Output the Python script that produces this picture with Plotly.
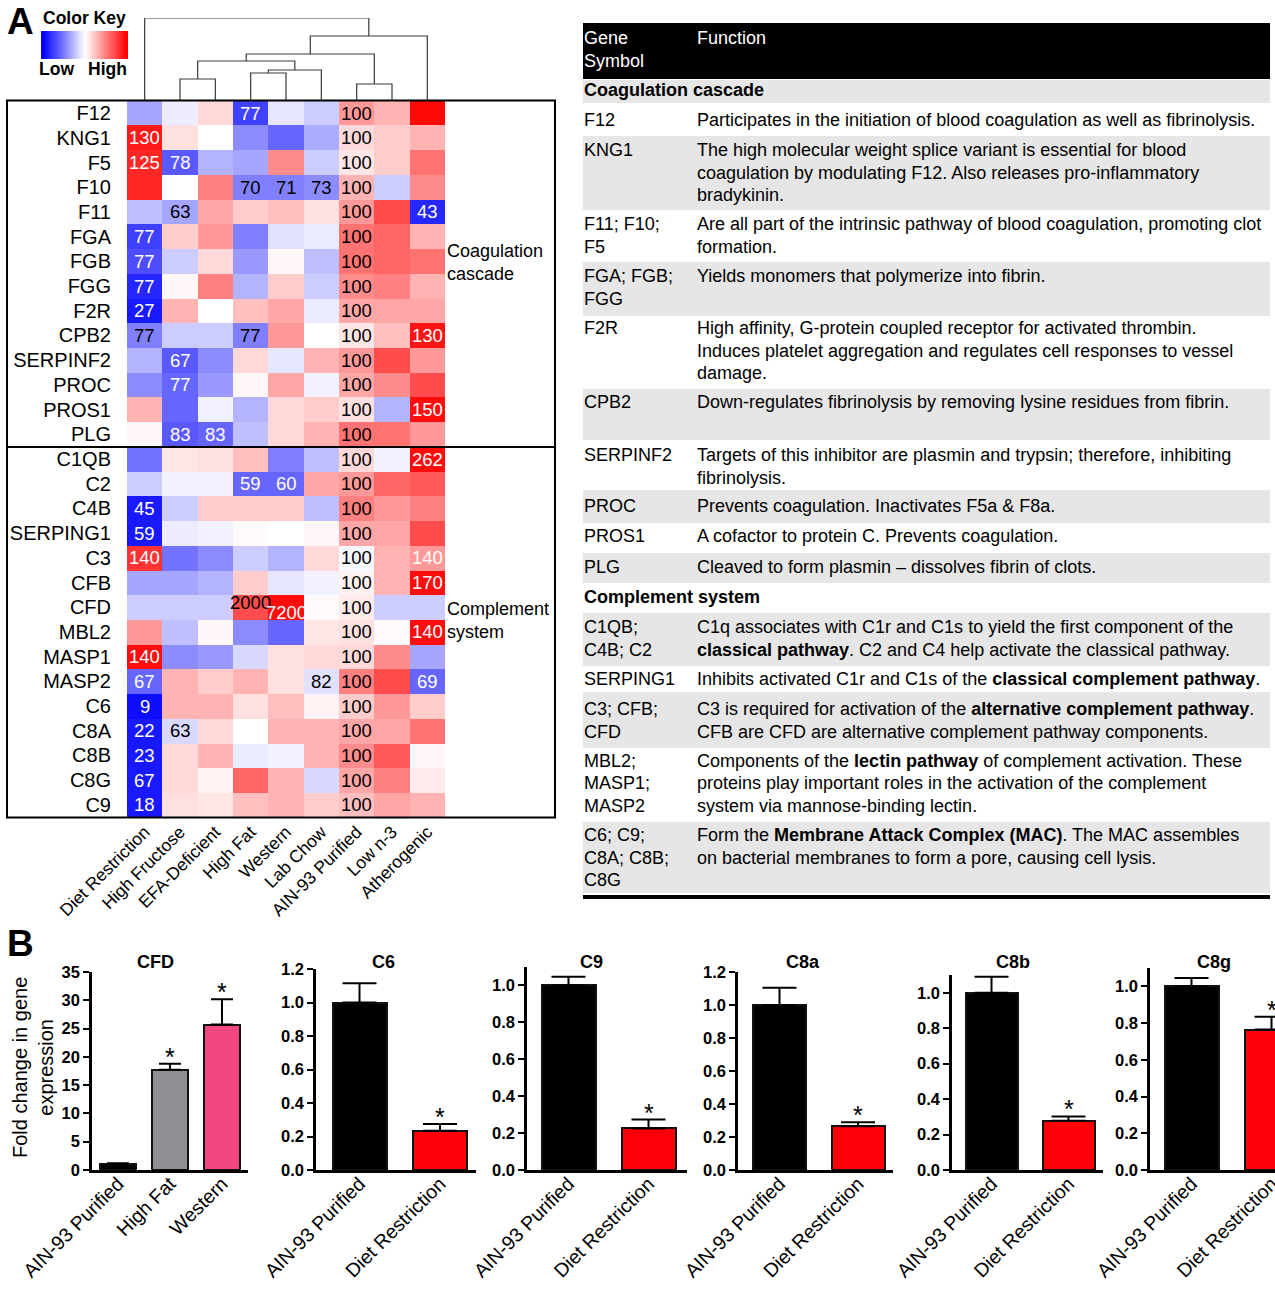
import plotly.graph_objects as go

W, H = 1275, 1290
FONT = "Liberation Sans, Arial, Helvetica, sans-serif"


def X(px):
    return px / W


def Y(py):
    return 1 - py / H


# ------------------------------------------------------------------ data: heatmap
diets = ["Diet Restriction", "High Fructose", "EFA-Deficient", "High Fat", "Western",
         "Lab Chow", "AIN-93 Purified", "Low n-3", "Atherogenic"]
genes = ["F12", "KNG1", "F5", "F10", "F11", "FGA", "FGB", "FGG", "F2R", "CPB2", "SERPINF2",
         "PROC", "PROS1", "PLG",
         "C1QB", "C2", "C4B", "SERPING1", "C3", "CFB", "CFD", "MBL2", "MASP1", "MASP2",
         "C6", "C8A", "C8B", "C8G", "C9"]

# relative (row-scaled) expression level, -1 = low (blue) ... +1 = high (red)
color_level = [
    [-0.35, -0.07, 0.15, -0.75, -0.10, -0.20, 0.40, 0.30, 0.97],   # F12
    [0.90, 0.12, 0.00, -0.45, -0.60, -0.33, 0.15, 0.20, 0.30],     # KNG1
    [0.85, -0.65, -0.30, -0.35, 0.45, -0.20, 0.10, 0.20, 0.55],    # F5
    [0.85, 0.00, 0.50, -0.50, -0.50, -0.45, 0.30, -0.20, 0.45],    # F10
    [-0.25, -0.35, 0.35, 0.20, 0.25, 0.12, 0.40, 0.70, -0.85],     # F11
    [-0.75, 0.20, 0.40, -0.50, -0.12, -0.08, 0.55, 0.60, 0.30],    # FGA
    [-0.70, -0.20, 0.15, -0.40, 0.03, -0.25, 0.55, 0.60, 0.55],    # FGB
    [-0.85, 0.03, 0.50, -0.30, 0.20, -0.20, 0.45, 0.50, 0.30],     # FGG
    [-0.90, 0.30, 0.00, 0.25, 0.35, -0.08, 0.35, 0.35, 0.35],      # F2R
    [-0.50, -0.20, -0.20, -0.50, 0.40, 0.00, 0.10, 0.25, 0.92],    # CPB2
    [-0.30, -0.65, -0.45, 0.15, -0.10, 0.30, 0.40, 0.70, 0.40],    # SERPINF2
    [-0.45, -0.60, -0.40, 0.03, 0.35, -0.05, 0.35, 0.45, 0.70],    # PROC
    [0.30, -0.60, -0.05, -0.30, 0.15, 0.20, 0.12, -0.30, 0.95],    # PROS1
    [0.03, -0.65, -0.60, -0.25, 0.15, 0.30, 0.55, 0.55, 0.40],     # PLG
    [-0.55, 0.10, 0.12, 0.25, -0.50, -0.25, 0.15, -0.05, 0.95],    # C1QB
    [-0.20, -0.05, -0.05, -0.60, -0.60, 0.35, 0.40, 0.60, 0.65],   # C2
    [-0.90, -0.20, 0.20, 0.20, 0.20, -0.25, 0.50, 0.40, 0.50],     # C4B
    [-0.90, -0.07, -0.05, 0.02, 0.00, 0.03, 0.35, 0.35, 0.70],     # SERPING1
    [0.80, -0.55, -0.45, -0.20, -0.30, 0.15, -0.03, 0.30, 0.40],   # C3
    [-0.35, -0.35, -0.30, 0.20, -0.10, -0.05, 0.05, 0.30, 0.95],   # CFB
    [-0.20, -0.20, -0.20, 0.70, 0.95, 0.02, 0.08, -0.20, -0.20],   # CFD
    [0.40, -0.25, 0.03, -0.45, -0.60, 0.10, 0.12, 0.02, 0.95],     # MBL2
    [0.95, -0.45, -0.40, -0.15, 0.12, 0.15, 0.15, 0.45, -0.35],    # MASP1
    [-0.60, 0.30, 0.20, 0.30, 0.12, -0.12, 0.50, 0.70, -0.60],     # MASP2
    [-0.95, 0.30, 0.30, 0.12, 0.25, 0.05, 0.20, 0.40, 0.20],       # C6
    [-0.90, -0.15, 0.15, 0.00, 0.30, 0.30, 0.35, 0.35, 0.55],      # C8A
    [-0.90, 0.15, 0.30, -0.08, -0.05, 0.30, 0.45, 0.65, 0.03],     # C8B
    [-0.90, 0.15, 0.05, 0.60, 0.30, -0.15, 0.35, 0.50, 0.08],      # C8G
    [-0.90, 0.12, 0.10, 0.25, 0.30, 0.20, 0.25, 0.35, 0.30],       # C9
]

# percent of AIN-93 Purified shown in the cells ("" = no label)
cell_labels = [
    ["", "", "", "77", "", "", "100", "", ""],
    ["130", "", "", "", "", "", "100", "", ""],
    ["125", "78", "", "", "", "", "100", "", ""],
    ["", "", "", "70", "71", "73", "100", "", ""],
    ["", "63", "", "", "", "", "100", "", "43"],
    ["77", "", "", "", "", "", "100", "", ""],
    ["77", "", "", "", "", "", "100", "", ""],
    ["77", "", "", "", "", "", "100", "", ""],
    ["27", "", "", "", "", "", "100", "", ""],
    ["77", "", "", "77", "", "", "100", "", "130"],
    ["", "67", "", "", "", "", "100", "", ""],
    ["", "77", "", "", "", "", "100", "", ""],
    ["", "", "", "", "", "", "100", "", "150"],
    ["", "83", "83", "", "", "", "100", "", ""],
    ["", "", "", "", "", "", "100", "", "262"],
    ["", "", "", "59", "60", "", "100", "", ""],
    ["45", "", "", "", "", "", "100", "", ""],
    ["59", "", "", "", "", "", "100", "", ""],
    ["140", "", "", "", "", "", "100", "", "140"],
    ["", "", "", "", "", "", "100", "", "170"],
    ["", "", "", "2000", "7200", "", "100", "", ""],
    ["", "", "", "", "", "", "100", "", "140"],
    ["140", "", "", "", "", "", "100", "", ""],
    ["67", "", "", "", "", "82", "100", "", "69"],
    ["9", "", "", "", "", "", "100", "", ""],
    ["22", "63", "", "", "", "", "100", "", ""],
    ["23", "", "", "", "", "", "100", "", ""],
    ["67", "", "", "", "", "", "100", "", ""],
    ["18", "", "", "", "", "", "100", "", ""],
]

# colour key gradient stops (Low -> High)
key_levels = [-1.0, -0.9, -0.8, -0.7, -0.6, -0.5, -0.4, -0.3, -0.2, -0.1, 0.0,
              0.1, 0.2, 0.3, 0.4, 0.5, 0.6, 0.7, 0.8, 0.9, 1.0]

# column dendrogram: merges of (left, right) nodes (leaves 0..8, new nodes 9..) and heights
dendro_merges = [(1, 2), (3, 4), (10, 5), (9, 11), (6, 7), (12, 13), (14, 8), (0, 15)]
dendro_heights = [18, 24, 27, 36, 13, 43, 61, 79]

# ------------------------------------------------------------------ data: table
table_sections = ["Coagulation cascade", "Complement system"]
table_symbols = ["F12", "KNG1", "F11; F10;\nF5", "FGA; FGB;\nFGG", "F2R", "CPB2", "SERPINF2",
                 "PROC", "PROS1", "PLG",
                 "C1QB;\nC4B; C2", "SERPING1", "C3; CFB;\nCFD", "MBL2;\nMASP1;\nMASP2",
                 "C6; C9;\nC8A; C8B;\nC8G"]
table_functions = [
    "Participates in the initiation of blood coagulation as well as fibrinolysis.",
    "The high molecular weight splice variant is essential for blood\ncoagulation by modulating F12. Also releases pro-inflammatory\nbradykinin.",
    "Are all part of the intrinsic pathway of blood coagulation, promoting clot\nformation.",
    "Yields monomers that polymerize into fibrin.",
    "High affinity, G-protein coupled receptor for activated thrombin.\nInduces platelet aggregation and regulates cell responses to vessel\ndamage.",
    "Down-regulates fibrinolysis by removing lysine residues from fibrin.",
    "Targets of this inhibitor are plasmin and trypsin; therefore, inhibiting\nfibrinolysis.",
    "Prevents coagulation. Inactivates F5a & F8a.",
    "A cofactor to protein C. Prevents coagulation.",
    "Cleaved to form plasmin \u2013 dissolves fibrin of clots.",
    "C1q associates with C1r and C1s to yield the first component of the\n<b>classical pathway</b>. C2 and C4 help activate the classical pathway.",
    "Inhibits activated C1r and C1s of the <b>classical complement pathway</b>.",
    "C3 is required for activation of the <b>alternative complement pathway</b>.\nCFB are CFD are alternative complement pathway components.",
    "Components of the <b>lectin pathway</b> of complement activation. These\nproteins play important roles in the activation of the complement\nsystem via mannose-binding lectin.",
    "Form the <b>Membrane Attack Complex (MAC)</b>. The MAC assembles\non bacterial membranes to form a pore, causing cell lysis.",
]

# ------------------------------------------------------------------ data: bar charts (panel B)
bar_titles = ["CFD", "C6", "C9", "C8a", "C8b", "C8g"]
cfd_groups = ["AIN-93 Purified", "High Fat", "Western"]
dr_groups = ["AIN-93 Purified", "Diet Restriction"]
cfd_mean = [1.0, 17.7, 25.7]
cfd_sem = [0.2, 1.1, 4.5]
cfd_sig = [False, True, True]
c6_mean, c6_sem = [1.0, 0.235], [0.115, 0.04]
c9_mean, c9_sem = [1.0, 0.225], [0.047, 0.048]
c8a_mean, c8a_sem = [1.0, 0.265], [0.105, 0.024]
c8b_mean, c8b_sem = [1.0, 0.278], [0.09, 0.024]
c8g_mean, c8g_sem = [1.0, 0.765], [0.046, 0.07]
dr_sig = [False, True]

# ------------------------------------------------------------------ figure
fig = go.Figure()
CSCALE = [[0, "#0000ff"], [0.5, "#ffffff"], [1, "#ff0000"]]

# heatmap area (pixels)
HM_L, HM_R, HM_T, HM_B = 127, 445, 100.6, 817.4

fig.add_trace(go.Heatmap(
    z=color_level, x=diets, y=genes, zmin=-1, zmax=1, colorscale=CSCALE,
    xaxis="x", yaxis="y", hoverinfo="skip", showscale=False))

# colour key
fig.add_trace(go.Heatmap(
    z=[key_levels], x=list(range(len(key_levels))), y=[0], zmin=-1, zmax=1, colorscale=CSCALE,
    zsmooth="best", xaxis="x9", yaxis="y9", hoverinfo="skip", showscale=False))

annotations = []
override_black = {("CFD", "High Fat")}
override_white = {("C3", "Atherogenic")}
yshift_map = {("CFD", "High Fat"): 5, ("CFD", "Western"): -5}
for gi, g in enumerate(genes):
    for di, d in enumerate(diets):
        lab = cell_labels[gi][di]
        if not lab:
            continue
        z = color_level[gi][di]
        col = "white" if (abs(z) >= 0.55 and lab != "100") else "black"
        if (g, d) in override_black:
            col = "black"
        if (g, d) in override_white:
            col = "white"
        annotations.append(dict(x=d, y=g, xref="x", yref="y", text=lab, showarrow=False,
                                font=dict(family=FONT, size=18.5, color=col),
                                yshift=yshift_map.get((g, d), 0)))

# dendrogram
n_leaf = len(diets)
node_x = list(range(n_leaf))
node_h = [None] * n_leaf
DEN_MIN = -4
dx, dy = [], []
for (a, b), h in zip(dendro_merges, dendro_heights):
    xa, xb = node_x[a], node_x[b]
    ha = node_h[a] if node_h[a] is not None else DEN_MIN
    hb = node_h[b] if node_h[b] is not None else DEN_MIN
    dx += [xa, xa, xb, xb, None]
    dy += [ha, h, h, hb, None]
    node_x.append((xa + xb) / 2)
    node_h.append(h)
fig.add_trace(go.Scatter(x=dx, y=dy, mode="lines", line=dict(color="#3a3a3a", width=1.2),
                         xaxis="x2", yaxis="y2", hoverinfo="skip"))

layout_axes = dict(
    xaxis=dict(domain=[X(HM_L), X(HM_R)], anchor="y", tickangle=-45, ticks="",
               tickfont=dict(family=FONT, size=17.5, color="black"), showgrid=False,
               zeroline=False, showline=False, automargin=False),
    yaxis=dict(domain=[Y(HM_B), Y(HM_T)], anchor="x", autorange="reversed", ticks="outside",
               ticklen=11, tickcolor="rgba(0,0,0,0)", tickfont=dict(family=FONT, size=20, color="black"),
               showgrid=False, zeroline=False, showline=False, automargin=False),
    xaxis2=dict(domain=[X(HM_L), X(HM_R)], anchor="y2", range=[-0.5, 8.5], visible=False, automargin=False),
    yaxis2=dict(domain=[Y(101), Y(18)], anchor="x2", range=[DEN_MIN, 79], visible=False, automargin=False),
    xaxis9=dict(domain=[X(41), X(128)], anchor="y9", range=[-0.5, len(key_levels) - 0.5], visible=False,
                automargin=False),
    yaxis9=dict(domain=[Y(59), Y(31)], anchor="x9", range=[-0.5, 0.5], visible=False, automargin=False),
)

shapes = []
# boxes around gene groups
shapes.append(dict(type="rect", xref="paper", yref="paper", x0=X(7), x1=X(555), y0=Y(447), y1=Y(HM_T),
                   line=dict(color="black", width=2)))
shapes.append(dict(type="rect", xref="paper", yref="paper", x0=X(7), x1=X(555), y0=Y(HM_B), y1=Y(447),
                   line=dict(color="black", width=2)))


def ptext(px, py, text, size=17, color="black", xanchor="left", yanchor="middle", bold=False, angle=0):
    annotations.append(dict(x=X(px), y=Y(py), xref="paper", yref="paper", text=(f"<b>{text}</b>" if bold else text),
                            showarrow=False, xanchor=xanchor, yanchor=yanchor, textangle=angle,
                            font=dict(family=FONT, size=size, color=color)))


ptext(5, 21, "A", size=37, bold=True)
ptext(41, 18, "Color Key", size=17.5, bold=True)
ptext(37, 69, "Low", size=17.5, bold=True)
ptext(86, 69, "High", size=17.5, bold=True)
ptext(445, 251, "Coagulation", size=18)
ptext(445, 274, "cascade", size=18)
ptext(445, 609, "Complement", size=18)
ptext(445, 632, "system", size=18)

# ------------------------------------------------------------------ table
T_L, T_R = 583, 1270
TF = 18
LINE = 22.5
SX, FX = 582, 695
shapes.append(dict(type="rect", xref="paper", yref="paper", x0=X(T_L), x1=X(T_R), y0=Y(79), y1=Y(23),
                   fillcolor="black", line=dict(width=0)))
ptext(SX, 38, "Gene", size=TF, color="white")
ptext(SX, 61, "Symbol", size=TF, color="white")
ptext(FX, 38, "Function", size=TF, color="white")

# row bands (top, bottom, first text line centre, grey?)
section_bands = [(80, 103, 90, True), (583, 613, 597, False)]
row_bands = [(103, 136, 120, False), (136, 210, 150, True), (210, 262, 224, False),
             (262, 316, 276, True), (316, 389, 328, False), (389, 440, 402, True),
             (440, 490, 455, False), (490, 523, 506, True), (523, 553, 536, False),
             (553, 583, 567, True),
             (613, 666, 627, True), (666, 692, 679, False), (692, 748, 709, True),
             (748, 822, 761, False), (822, 893, 835, True)]
GREY = "#e6e6e6"
for (t, b, c, grey), name in zip(section_bands, table_sections):
    if grey:
        shapes.append(dict(type="rect", xref="paper", yref="paper", x0=X(T_L), x1=X(T_R), y0=Y(b), y1=Y(t),
                           fillcolor=GREY, line=dict(width=0), layer="below"))
    ptext(SX, c, name, size=TF, bold=True)
for (t, b, c, grey), sym, fn in zip(row_bands, table_symbols, table_functions):
    if grey:
        shapes.append(dict(type="rect", xref="paper", yref="paper", x0=X(T_L), x1=X(T_R), y0=Y(b), y1=Y(t),
                           fillcolor=GREY, line=dict(width=0), layer="below"))
    for i, ln in enumerate(sym.split("\n")):
        ptext(SX, c + i * LINE, ln, size=TF)
    for i, ln in enumerate(fn.split("\n")):
        ptext(FX, c + i * LINE, ln, size=TF)
shapes.append(dict(type="line", xref="paper", yref="paper", x0=X(T_L), x1=X(T_R), y0=Y(897), y1=Y(897),
                   line=dict(color="black", width=4)))

# ------------------------------------------------------------------ panel B
ptext(5, 943, "B", size=37, bold=True)
ptext(33, 1068, "Fold change in gene<br>expression", size=20, xanchor="center", angle=-90)

RED = "#fb0007"
panels = [
    dict(groups=cfd_groups, mean=cfd_mean, sem=cfd_sem, sig=cfd_sig,
         colors=["#000000", "#8e8e93", "#f2477f"], x0=92, x1=248, sp=52, off=26, bw=36,
         ytop=972, ymax=35, dtick=5, fmt="d", cap=11, tx=155),
    dict(groups=dr_groups, mean=c6_mean, sem=c6_sem, sig=dr_sig, colors=["#000000", RED],
         x0=316, x1=476, sp=80.5, off=43.5, bw=54, ytop=969, ymax=1.2, dtick=0.2, fmt=".1f", cap=17, tx=383),
    dict(groups=dr_groups, mean=c9_mean, sem=c9_sem, sig=dr_sig, colors=["#000000", RED],
         x0=527, x1=687, sp=80, off=41.5, bw=54, ytop=967, ymax=1.1, dtick=0.2, fmt=".1f", cap=17, tx=591),
    dict(groups=dr_groups, mean=c8a_mean, sem=c8a_sem, sig=dr_sig, colors=["#000000", RED],
         x0=738, x1=893, sp=78.5, off=41.5, bw=53, ytop=972, ymax=1.2, dtick=0.2, fmt=".1f", cap=17, tx=803),
    dict(groups=dr_groups, mean=c8b_mean, sem=c8b_sem, sig=dr_sig, colors=["#000000", RED],
         x0=952, x1=1103, sp=77, off=39.5, bw=52, ytop=975, ymax=1.1, dtick=0.2, fmt=".1f", cap=17, tx=1013),
    dict(groups=dr_groups, mean=c8g_mean, sem=c8g_sem, sig=dr_sig, colors=["#000000", RED],
         x0=1150, x1=1275, sp=80, off=41.5, bw=54, ytop=968, ymax=1.1, dtick=0.2, fmt=".1f", cap=17, tx=1214),
]

for k, (p, title) in enumerate(zip(panels, bar_titles)):
    ax = k + 3
    xa, ya = f"x{ax}", f"y{ax}"
    fig.add_trace(go.Bar(
        x=p["groups"], y=p["mean"], xaxis=xa, yaxis=ya, width=p["bw"] / p["sp"],
        marker=dict(color=p["colors"], line=dict(color="#111111", width=2)),
        error_y=dict(type="data", symmetric=False, array=p["sem"], arrayminus=[0] * len(p["sem"]),
                     color="black", thickness=2, width=p["cap"]),
        hoverinfo="skip"))
    # significance asterisks just above the error caps
    for g, m, e, s in zip(p["groups"], p["mean"], p["sem"], p["sig"]):
        if s:
            annotations.append(dict(x=g, y=m + e, xref=xa, yref=ya, text="*", showarrow=False,
                                    xanchor="center", yanchor="middle", yshift=7,
                                    font=dict(family=FONT, size=25, color="black")))
    r0 = -p["off"] / p["sp"]
    r1 = r0 + (p["x1"] - p["x0"]) / p["sp"]
    layout_axes[f"xaxis{ax}"] = dict(
        domain=[X(p["x0"]), X(p["x1"])], anchor=ya, range=[r0, r1], type="category",
        tickangle=-45, ticks="", showline=True, linecolor="black", linewidth=2.5,
        tickfont=dict(family=FONT, size=19.5, color="black"), showgrid=False, zeroline=False,
        automargin=False, ticklabelstandoff=-8)
    layout_axes[f"yaxis{ax}"] = dict(
        domain=[Y(1170), Y(p["ytop"])], anchor=xa, range=[0, p["ymax"]], dtick=p["dtick"],
        tick0=0, tickformat=p["fmt"], ticks="outside", ticklen=6, tickwidth=2, tickcolor="black",
        showline=True, linecolor="black", linewidth=2.5, showgrid=False, zeroline=False,
        tickfont=dict(family=FONT, size=16.5, color="black", weight="bold"), automargin=False)
    ptext(p["tx"], 962, title, size=18, xanchor="center", bold=True)

fig.update_layout(
    width=W, height=H, margin=dict(l=0, r=0, t=0, b=0, pad=0, autoexpand=False),
    paper_bgcolor="white", plot_bgcolor="white", showlegend=False,
    annotations=annotations, shapes=shapes, bargap=0,
    font=dict(family=FONT, color="black"),
    **layout_axes,
)

fig.write_html("out.html", config={"displayModeBar": False},
               post_script="document.body.style.margin='0';")
